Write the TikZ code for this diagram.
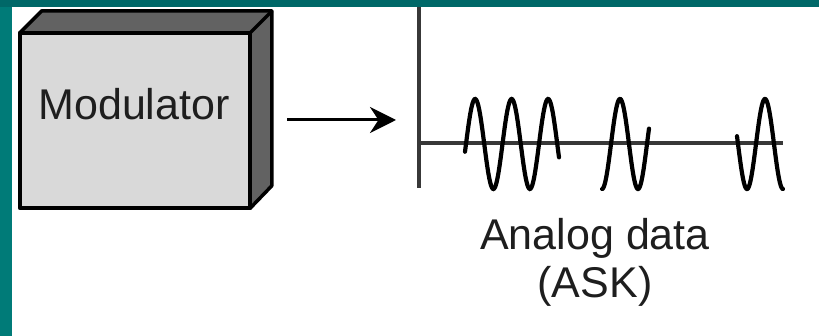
\documentclass[tikz,border=0pt]{standalone}
\usepackage{fontspec}
\setmainfont{Liberation Sans}
\usetikzlibrary{arrows.meta}
\definecolor{tealtop}{HTML}{006868}
\definecolor{tealleft}{HTML}{007B78}
\definecolor{facegray}{HTML}{D9D9D9}
\definecolor{sidegray}{HTML}{626262}
\definecolor{axisgray}{HTML}{383838}
\definecolor{txt}{HTML}{1E1E1E}
\tikzset{
  boxline/.style={draw=black, line width=3.5pt, line join=round},
  wave/.style={draw=black, line width=4.2pt, line cap=round, smooth},
  axisline/.style={draw=axisgray, line width=3.3pt},
  lbl/.style={text=txt, font=\fontsize{43}{48}\selectfont, inner sep=0pt, align=center},
}
\begin{document}
\begin{tikzpicture}[x=1pt,y=-1pt]
\useasboundingbox (0,0) rectangle (819,336);
\fill[tealtop] (0,0) rectangle (819,336);
\fill[tealleft] (0,7) rectangle (12,336);
\fill[white] (12,7) rectangle (819,336);
% box
\node[minimum width=230pt, minimum height=175pt, inner sep=0pt] (mod) at (135,120.5) {};
\filldraw[boxline, fill=sidegray] (mod.north west) -- ++(22,-22) -- ++(230,0) -- ++(0,175) -- (mod.south east) -- (mod.north east) -- cycle;
\draw[boxline] (mod.north east) -- ++(22,-22);
\filldraw[boxline, fill=facegray] (mod.south west) rectangle (mod.north east);
\node[lbl, anchor=base] (modlabel) at (134,120) {Modulator};
% arrow
\coordinate (a1) at (287,120);
\coordinate (a2) at (396,120);
\draw[line width=3pt, -{Stealth[length=26pt, width=26pt]}] (a1) -- (a2);
% axes
\coordinate (org) at (419,143);
\coordinate (ytop) at (419,7);
\coordinate (ybot) at (419,188);
\coordinate (xend) at (783,143);
\draw[axisline] (ytop) -- (ybot);
\draw[axisline] (org) -- (xend);
% waves
\draw[wave, domain=465:559, samples=120] plot (\x, {144 - 45*sin(9.863*(\x-466))});
\draw[wave, domain=602:649, samples=80] plot (\x, {144 + 45*cos(10*(\x-602))});
\draw[wave, domain=737:783, samples=80] plot (\x, {144 + 45*cos(10*(\x-747))});
% caption
\node[lbl, anchor=base] (cap1) at (595,250) {Analog data};
\node[lbl, anchor=base] (cap2) at (595,298) {(ASK)};
\end{tikzpicture}
\end{document}
